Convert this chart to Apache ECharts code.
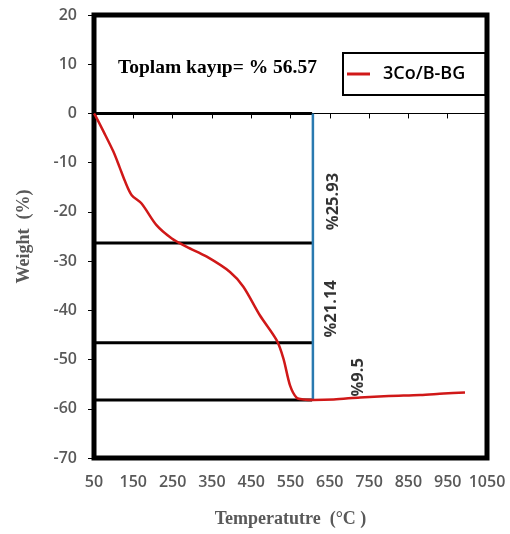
<!DOCTYPE html>
<html>
<head>
<meta charset="utf-8">
<script src="https://cdn.jsdelivr.net/npm/echarts@6/dist/echarts.min.js"></script>
<style>html,body{margin:0;padding:0;background:#fff;}#c{width:510px;height:534px;}</style>
</head>
<body>
<div id="c"></div>
<script>
// ---- data ----
const temps   = [50, 52.5, 75, 99, 115, 129, 146, 171, 209, 248, 286, 337, 396, 430, 472, 515, 532, 549, 566, 583, 608, 660, 727, 800, 880, 940, 994];
const weights = [0, -0.3, -3.8, -7.7, -10.9, -13.8, -16.6, -18.3, -22.7, -25.4, -27.1, -29.1, -32.2, -35.2, -41.0, -46.1, -49.8, -55.3, -57.8, -58.1, -58.2, -58.1, -57.7, -57.4, -57.2, -56.9, -56.7];
const stepLevels = [0, -26.3, -46.6, -58.2];
const stepStartT = 50;
const stepEndT = 605;
const dividerT = 607;
const lossLabels = ['%25.93', '%21.14', '%9.5'];
const totalLossText = 'Toplam kayıp= % 56.57';
const seriesName = '3Co/B-BG';
const xMin = 50, xMax = 1050, xStep = 100;
const yMin = -70, yMax = 20, yStep = 10;

const chart = echarts.init(document.getElementById('c'));
const gray = '#595959';
const series = [];
stepLevels.forEach(function (lv) {
  series.push({
    type: 'line', silent: true, symbol: 'none', z: 2,
    lineStyle: { color: '#000', width: 3 },
    data: [[stepStartT, lv], [stepEndT, lv]]
  });
});
series.push({
  type: 'line', silent: true, symbol: 'none', z: 3,
  lineStyle: { color: '#2a7ab0', width: 2.5 },
  data: [[dividerT, stepLevels[0]], [dividerT, stepLevels[stepLevels.length - 1]]]
});
series.push({
  name: seriesName, type: 'line', smooth: 0.3, symbol: 'none', z: 5,
  lineStyle: { color: '#d01818', width: 2.5 }, itemStyle: { color: '#d01818' },
  data: temps.map(function (t, i) { return [t, weights[i]]; })
});
// rotated loss labels (anchored in data space)
const labelPos = [[658, -17.9], [655, -39.7], [722, -53.6]];
series.push({
  type: 'scatter', silent: true, symbolSize: 0, z: 6,
  label: {
    show: true, position: 'inside', rotate: 90,
    fontFamily: 'Open Sans', fontWeight: 'bold', fontSize: 16.5, color: '#000',
    formatter: function (p) { return lossLabels[p.dataIndex]; }
  },
  data: labelPos
});

chart.setOption({
  animation: false,
  backgroundColor: '#fff',
  grid: { left: 94, top: 15, right: 23, bottom: 76, show: true, borderColor: '#000', borderWidth: 5, containLabel: false },
  legend: {
    data: [{ name: seriesName, icon: 'rect' }],
    left: 343, top: 53,
    padding: [12, 20, 12, 4],
    itemWidth: 23, itemHeight: 3,
    borderColor: '#000', borderWidth: 2, backgroundColor: '#fff',
    textStyle: { fontFamily: 'Open Sans', fontSize: 18, fontWeight: 600, color: '#000', padding: [0, 0, 0, 8] }
  },
  graphic: [{
    type: 'text', left: 118, top: 58, z: 10,
    style: { text: totalLossText, font: 'bold 19.5px "Liberation Serif"', fill: '#000' }
  }],
  xAxis: {
    type: 'value', min: xMin, max: xMax, interval: xStep,
    name: 'Temperatutre  (°C )', nameLocation: 'middle', nameGap: 52,
    nameTextStyle: { fontFamily: 'Liberation Serif', fontWeight: 'bold', fontSize: 18, color: gray },
    axisLine: { show: true, lineStyle: { color: '#000', width: 1 } },
    axisTick: { show: true, length: 5, lineStyle: { color: '#000' } },
    splitLine: { show: false },
    axisLabel: { color: gray, fontFamily: 'Open Sans', fontWeight: 600, fontSize: 16, margin: 16,
      formatter: function (v) { return String(v); } }
  },
  yAxis: {
    type: 'value', min: yMin, max: yMax, interval: yStep,
    name: 'Weight  (%)', nameLocation: 'middle', nameGap: 61, nameRotate: 90,
    nameTextStyle: { fontFamily: 'Liberation Serif', fontWeight: 'bold', fontSize: 18, color: gray },
    axisLine: { show: true, lineStyle: { color: '#000', width: 1 } },
    axisTick: { show: true, length: 6, lineStyle: { color: '#000' } },
    splitLine: { show: false },
    axisLabel: { color: gray, fontFamily: 'Open Sans', fontWeight: 600, fontSize: 16, margin: 17 }
  },
  series: series
});
</script>
</body>
</html>
